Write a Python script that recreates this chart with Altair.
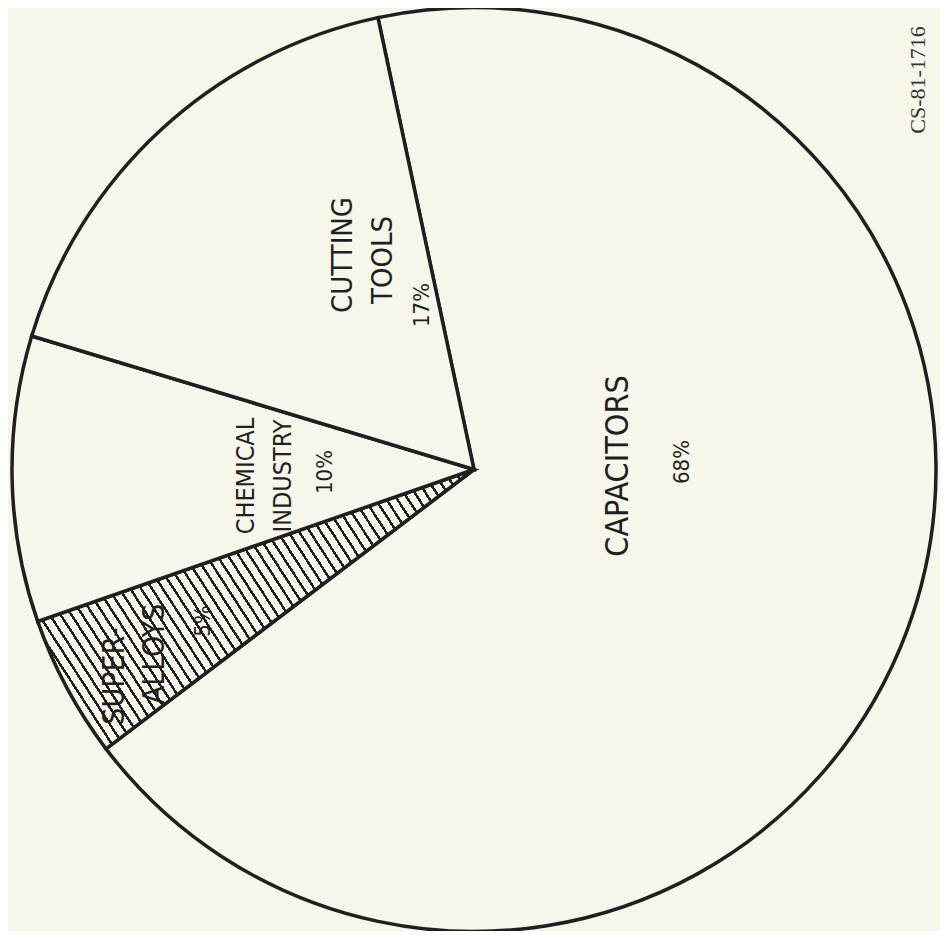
import math
import altair as alt
import pandas as pd

# ---- data ----
categories = ["CAPACITORS", "SUPER-ALLOYS", "CHEMICAL INDUSTRY", "CUTTING TOOLS"]
shares = [68, 5, 10, 17]
order = [1, 2, 3, 4]
line1 = ["CAPACITORS", "SUPER-", "CHEMICAL", "CUTTING"]
line2 = ["", "ALLOYS", "INDUSTRY", "TOOLS"]
pct_labels = ["68%", "5%", "10%", "17%"]
code_label = "CS-81-1716"

df = pd.DataFrame({
    "category": categories,
    "share": shares,
    "ord": order,
    "line1": line1,
    "line2": line2,
    "pct": pct_labels,
})

BG = "#f6f6ea"
INK = "#221e1f"
FONT = "Liberation Sans Narrow, DejaVu Sans Condensed, Arial Narrow, sans-serif"

W, H = 932, 923
R = 462
start = math.radians(348)

# hatch pattern as hard-stop linear gradient
N = 57
stops = []
for i in range(N):
    a = i / N
    b = (i + 0.27) / N
    c = (i + 1) / N
    stops += [
        {"offset": a, "color": INK},
        {"offset": b, "color": INK},
        {"offset": b, "color": BG},
        {"offset": c, "color": BG},
    ]
hatch = {"gradient": "linear", "x1": 0, "y1": 1, "x2": 1.207, "y2": 0.499, "stops": stops}

pie = alt.Chart(df).mark_arc(
    radius=R, stroke=INK, strokeWidth=3.5, strokeJoin="miter"
).encode(
    theta=alt.Theta("share:Q", stack=True,
                    scale=alt.Scale(domain=[0, 100], range=[start, start + 2 * math.pi])),
    order=alt.Order("ord:Q"),
    fill=alt.condition(alt.datum.category == "SUPER-ALLOYS", alt.value(hatch), alt.value(BG)),
)


def label(cat, field, x, y, size):
    return alt.Chart(df).transform_filter(
        alt.datum.category == cat
    ).mark_text(
        angle=270, font=FONT, fontSize=size, align="center", baseline="middle", color=INK
    ).encode(x=alt.value(x), y=alt.value(y), text=alt.Text(f"{field}:N"))


labels = [
    label("CUTTING TOOLS", "line1", 335, 247, 29),
    label("CUTTING TOOLS", "line2", 375, 252, 29),
    label("CUTTING TOOLS", "pct", 414, 297, 22),
    label("CHEMICAL INDUSTRY", "line1", 238, 468, 25),
    label("CHEMICAL INDUSTRY", "line2", 275, 468, 25),
    label("CHEMICAL INDUSTRY", "pct", 317, 464, 22),
    label("SUPER-ALLOYS", "line1", 107, 668, 30),
    label("SUPER-ALLOYS", "line2", 147, 646, 30),
    label("SUPER-ALLOYS", "pct", 195, 613, 22),
    label("CAPACITORS", "line1", 610, 458, 32),
    label("CAPACITORS", "pct", 674, 454, 22),
]

code = alt.Chart(pd.DataFrame({"code": [code_label]})).mark_text(
    angle=270, font="Liberation Serif, serif", fontSize=22, align="center",
    baseline="middle", color="#333333"
).encode(x=alt.value(910), y=alt.value(72), text="code:N")

chart = alt.layer(pie, *labels, code).properties(
    width=W, height=H, padding=0, autosize="none", background=BG
).configure_view(stroke=None)

chart.save("out.html", embed_options={"renderer": "svg", "actions": False})
